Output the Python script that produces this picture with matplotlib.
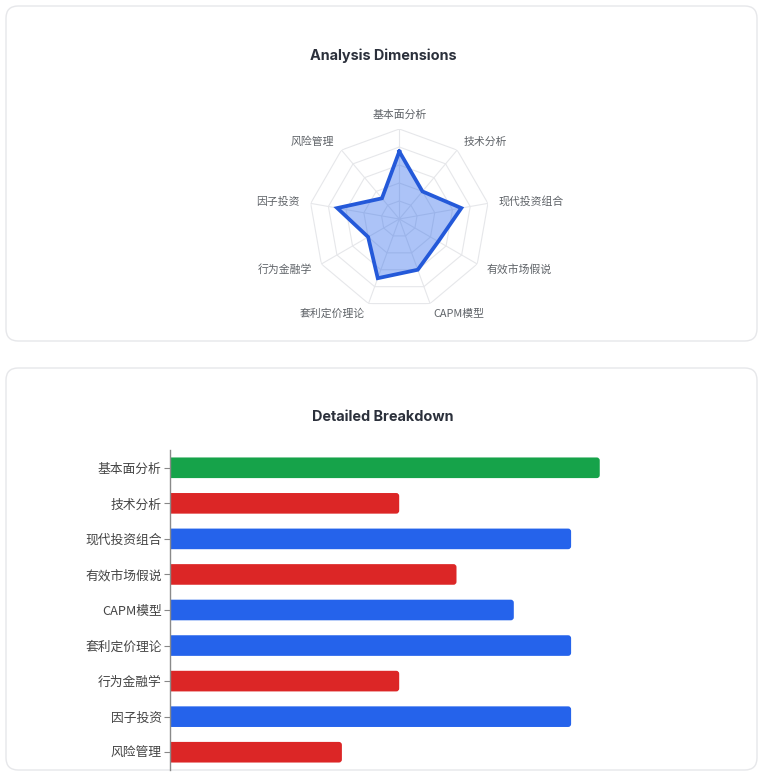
import numpy as np
import matplotlib
matplotlib.use("Agg")
import matplotlib.pyplot as plt
from matplotlib.patches import FancyBboxPatch

plt.rcParams['font.family'] = ['Noto Sans CJK SC', 'DejaVu Sans']

categories = ["基本面分析", "技术分析", "现代投资组合", "有效市场假说", "CAPM模型",
              "套利定价理论", "行为金融学", "因子投资", "风险管理"]
values = [75, 40, 70, 50, 60, 70, 40, 70, 30]
radar_max = 100
ring_levels = [20, 40, 60, 80, 100]
title_radar = "Analysis Dimensions"
title_bar = "Detailed Breakdown"

W, H = 764, 777
fig = plt.figure(figsize=(W / 100, H / 100), dpi=100)
fig.patch.set_facecolor("white")

def fx(px):
    return px / W

def fy(py):
    return 1 - py / H

# cards
for (x0, y0, x1, y1) in [(6, 6, 757, 341), (6, 368, 757, 770)]:
    card = FancyBboxPatch((fx(x0), fy(y1)), fx(x1 - x0), (y1 - y0) / H,
                          boxstyle="round,pad=0,rounding_size=0.016",
                          mutation_aspect=W / H,
                          transform=fig.transFigure, facecolor="white",
                          edgecolor="#e6e7ea", linewidth=1.0, zorder=-10)
    fig.patches.append(card)

title_font = ['Inter', 'Noto Sans CJK SC', 'DejaVu Sans']
fig.text(fx(383), fy(56), title_radar, ha="center", va="center", fontsize=10.4,
         fontweight="bold", color="#2b303b", family=title_font)
fig.text(fx(383), fy(417), title_bar, ha="center", va="center", fontsize=10.4,
         fontweight="bold", color="#2b303b", family=title_font)

# ---------- radar ----------
cx, cy, R = 399.3, 219, 90
ax = fig.add_axes([fx(cx - R), fy(cy + R), fx(2 * R), 2 * R / H], projection="polar")
ax.set_zorder(1)
ax.set_theta_zero_location("N")
ax.set_theta_direction(-1)
ax.set_ylim(0, radar_max)
ax.grid(False)
ax.spines["polar"].set_visible(False)
ax.set_xticks([])
ax.set_yticks([])
ax.patch.set_alpha(0)

n = len(categories)
angles = np.linspace(0, 2 * np.pi, n, endpoint=False)
closed = np.concatenate([angles, angles[:1]])
for lv in ring_levels:
    ax.plot(closed, [lv] * (n + 1), color="#e6e7ea", lw=0.8, zorder=1)
for a in angles:
    ax.plot([a, a], [0, radar_max], color="#e6e7ea", lw=0.8, zorder=1)

vals = np.array(values + values[:1], dtype=float)
ax.fill(closed, vals, color="#2563eb", alpha=0.38, zorder=2, lw=0)
ax.plot(closed, vals, color="#2459d9", lw=2.7, zorder=3, solid_joinstyle="miter")

for a, lab in zip(angles, categories):
    s = np.sin(a)
    if abs(s) < 0.1:
        ha = "center"
    elif s > 0:
        ha = "left"
    else:
        ha = "right"
    r = 112
    if abs(s) < 0.1:
        r = 116
    ax.text(a, r, lab, ha=ha, va="center", fontsize=7.8, color="#5f6368", clip_on=False)

# ---------- bars ----------
def bar_color(v):
    if v == max(values):
        return "#16a34a"
    if v <= 50:
        return "#dc2626"
    return "#2563eb"

bx0, bx1 = 170, 743
by0, by1 = 450, 770
bax = fig.add_axes([fx(bx0), fy(by1), fx(bx1 - bx0), (by1 - by0) / H])
bax.set_zorder(1)
bax.set_xlim(0, 100)
bax.set_ylim(len(categories) - 0.5, -0.5)
ypos = np.arange(len(categories))
bars = bax.barh(ypos, values, height=0.58, color=[bar_color(v) for v in values])
px_x = 100 / (bx1 - bx0)
px_y = len(categories) / (by1 - by0)
for b in bars:
    x, y, w, h = b.get_x(), b.get_y(), b.get_width(), b.get_height()
    fc = b.get_facecolor()
    b.set_visible(False)
    rs = 3 * px_x
    p = FancyBboxPatch((x - 2 * rs, y), w + 2 * rs, h,
                       boxstyle=f"round,pad=0,rounding_size={rs}",
                       mutation_aspect=px_y / px_x,
                       facecolor=fc, edgecolor="none", zorder=2)
    bax.add_patch(p)

bax.set_yticks(ypos)
bax.set_yticklabels(categories, fontsize=9.2, color="#444444")
bax.tick_params(axis="y", length=4, width=0.8, color="#888888", pad=2)
bax.set_xticks([])
for sp in ["top", "right", "bottom"]:
    bax.spines[sp].set_visible(False)
bax.spines["left"].set_color("#8a8a8a")
bax.spines["left"].set_linewidth(1.0)
bax.spines["left"].set_zorder(3)
bax.patch.set_alpha(0)

fig.savefig("out.png", dpi=100, facecolor="white")
